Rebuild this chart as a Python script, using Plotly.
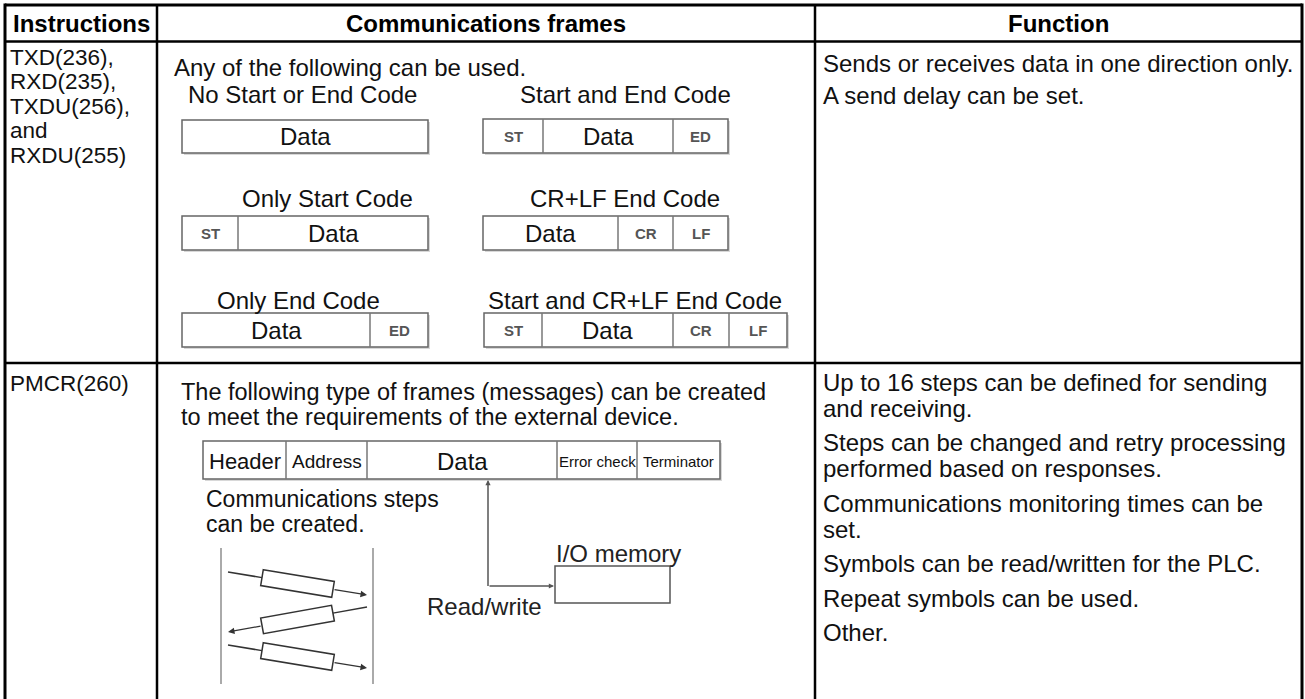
import math
import plotly.graph_objects as go

# ---------------- content ----------------
headers = ["Instructions", "Communications frames", "Function"]
row1_instr = ["TXD(236),", "RXD(235),", "TXDU(256),", "and", "RXDU(255)"]
row2_instr = ["PMCR(260)"]
row1_intro = "Any of the following can be used."
frame_titles = ["No Start or End Code", "Start and End Code", "Only Start Code",
                "CR+LF End Code", "Only End Code", "Start and CR+LF End Code"]
frame_cells = [["Data"], ["ST", "Data", "ED"], ["ST", "Data"],
               ["Data", "CR", "LF"], ["Data", "ED"], ["ST", "Data", "CR", "LF"]]
row1_func = [["Sends or receives data in one direction only."], ["A send delay can be set."]]
row2_intro = ["The following type of frames (messages) can be created",
              "to meet the requirements of the external device."]
pmcr_cells = ["Header", "Address", "Data", "Error check", "Terminator"]
steps_text = ["Communications steps", "can be created."]
io_label = "I/O memory"
rw_label = "Read/write"
row2_func = [["Up to 16 steps can be defined for sending", "and receiving."],
             ["Steps can be changed and retry processing", "performed based on responses."],
             ["Communications monitoring times can be", "set."],
             ["Symbols can be read/written for the PLC."],
             ["Repeat symbols can be used."],
             ["Other."]]
step_dirs = [1, -1, 1]   # 1 = left-to-right, -1 = right-to-left

# ---------------- geometry (pixels) ----------------
W, H = 1305, 699
FONT = "Liberation Sans, Arial, Helvetica, sans-serif"
COL_X = [5, 157, 815, 1302]
ROW_Y = [5, 41.5, 363, 705]

frame_boxes = [(182, 428, 120, 153), (483, 728, 119, 153), (182, 428, 216, 250),
               (483, 728, 216, 250), (182, 428, 313, 347), (484, 787, 313, 347)]
frame_divs = [[], [543, 673], [238], [618, 673], [370], [542, 673, 729]]
title_pos = [(302, 94), (625, 94), (327, 198), (625, 198), (298, 300), (635, 300)]

pmcr_box = (203, 720, 441, 479)
pmcr_divs = [286, 367, 557, 637]
pmcr_sizes = [22, 19, 24, 15, 15]

step_lines = [(228, 572, 367, 595), (367, 607, 228, 632), (228, 645, 367, 668)]
step_rect_len, step_rect_h = 72, 16

shapes = []
annotations = []


def line(x0, y0, x1, y1, color="black", width=2):
    shapes.append(dict(type="line", xref="x", yref="y", x0=x0, y0=y0, x1=x1, y1=y1,
                       line=dict(color=color, width=width), layer="above"))


def text(x, y, s, size=24, color="#111", xanchor="left", bold=False):
    annotations.append(dict(x=x, y=y, xref="x", yref="y", text=("<b>%s</b>" % s) if bold else s,
                            showarrow=False, xanchor=xanchor, yanchor="middle", borderpad=0,
                            font=dict(family=FONT, size=size, color=color)))


def arrow(x0, y0, x1, y1, color="#333", width=1.5, size=1.0):
    annotations.append(dict(x=x1, y=y1, ax=x0, ay=y0, xref="x", yref="y", axref="x", ayref="y",
                            text="", showarrow=True, arrowhead=2, arrowsize=size,
                            arrowwidth=width, arrowcolor=color, standoff=0, startstandoff=0))


# ---------------- table grid ----------------
line(COL_X[0], ROW_Y[0], COL_X[3], ROW_Y[0], width=3)
line(COL_X[0], ROW_Y[1], COL_X[3], ROW_Y[1], width=2.5)
line(COL_X[0], ROW_Y[2], COL_X[3], ROW_Y[2], width=2.5)
line(COL_X[0], ROW_Y[0] - 1.5, COL_X[0], ROW_Y[3], width=3)
line(COL_X[1], ROW_Y[0], COL_X[1], ROW_Y[3], width=2.5)
line(COL_X[2], ROW_Y[0], COL_X[2], ROW_Y[3], width=2.5)
line(COL_X[3], ROW_Y[0] - 1.5, COL_X[3], ROW_Y[3], width=3)

# headers
for i, h in enumerate(headers):
    text((COL_X[i] + COL_X[i + 1]) / 2, 23, h, size=24, xanchor="center", bold=True, color="#000")

# column 1
for i, s in enumerate(row1_instr):
    text(9, 57 + i * 24.5, s, size=22.5)
for i, s in enumerate(row2_instr):
    text(9, 383 + i * 24.5, s, size=22.5)

# column 2, row 1
text(173, 67, row1_intro)
for k, (title, cells) in enumerate(zip(frame_titles, frame_cells)):
    tx, ty = title_pos[k]
    text(tx, ty, title, xanchor="center")
    x0, x1, y0, y1 = frame_boxes[k]
    shapes.append(dict(type="rect", xref="x", yref="y", x0=x0 + 2, y0=y0 + 2, x1=x1 + 2, y1=y1 + 2,
                       line=dict(width=0), fillcolor="#d8d8d8", layer="above"))
    shapes.append(dict(type="rect", xref="x", yref="y", x0=x0, y0=y0, x1=x1, y1=y1,
                       line=dict(color="#666", width=1.5), fillcolor="white", layer="above"))
    edges = [x0] + frame_divs[k] + [x1]
    for d in frame_divs[k]:
        line(d, y0, d, y1, color="#777", width=1.5)
    for c, cell in enumerate(cells):
        cx = (edges[c] + edges[c + 1]) / 2
        cy = (y0 + y1) / 2
        if cell == "Data":
            text(cx, cy, cell, size=24, xanchor="center", color="#111")
        else:
            text(cx, cy, cell, size=15, xanchor="center", color="#555", bold=True)

# column 2, row 2
for i, s in enumerate(row2_intro):
    text(180, 392 + i * 25, s, size=23.5)
x0, x1, y0, y1 = pmcr_box
shapes.append(dict(type="rect", xref="x", yref="y", x0=x0 + 2, y0=y0 + 2, x1=x1 + 2, y1=y1 + 2,
                   line=dict(width=0), fillcolor="#d8d8d8", layer="above"))
shapes.append(dict(type="rect", xref="x", yref="y", x0=x0, y0=y0, x1=x1, y1=y1,
                   line=dict(color="#666", width=1.5), fillcolor="white", layer="above"))
edges = [x0] + pmcr_divs + [x1]
for d in pmcr_divs:
    line(d, y0, d, y1, color="#777", width=1.5)
for c, cell in enumerate(pmcr_cells):
    text((edges[c] + edges[c + 1]) / 2, (y0 + y1) / 2 + 1, cell, size=pmcr_sizes[c],
         xanchor="center", color="#111")

for i, s in enumerate(steps_text):
    text(205, 499 + i * 25, s, size=23)

# step diagram: two vertical gray lines
line(221, 548, 221, 684, color="#aaa", width=2)
line(373, 548, 373, 684, color="#aaa", width=2)
for (sx, sy, ex, ey), d in zip(step_lines, step_dirs):
    cx, cy = (sx + ex) / 2, (sy + ey) / 2
    ang = math.atan2(ey - sy, ex - sx)
    ux, uy = math.cos(ang), math.sin(ang)
    px, py = -uy, ux
    L, Hh = step_rect_len / 2, step_rect_h / 2
    pts = [(cx - ux * L - px * Hh, cy - uy * L - py * Hh), (cx + ux * L - px * Hh, cy + uy * L - py * Hh),
           (cx + ux * L + px * Hh, cy + uy * L + py * Hh), (cx - ux * L + px * Hh, cy - uy * L + py * Hh)]
    path = "M " + " L ".join("%.2f,%.2f" % p for p in pts) + " Z"
    shapes.append(dict(type="path", xref="x", yref="y", path=path,
                       line=dict(color="#333", width=1.5), fillcolor="white", layer="above"))
    line(sx, sy, cx - ux * L, cy - uy * L, color="#333", width=1.5)
    arrow(cx + ux * L, cy + uy * L, ex, ey, size=1.0, width=1.3)

# read/write connector and I/O memory
line(488, 483, 488, 586, color="#555", width=1.5)
arrow(488, 486, 488, 480, color="#555", width=1.3, size=0.8)
arrow(488, 586, 554, 586, color="#555", width=1.3, size=0.8)
shapes.append(dict(type="rect", xref="x", yref="y", x0=555, y0=566, x1=670, y1=603,
                   line=dict(color="#555", width=1.5), fillcolor="white", layer="above"))
text(555, 553, io_label, color="#222")
text(543, 606, rw_label, xanchor="right", color="#222")

# column 3
y = 63
for para in row1_func:
    for s in para:
        text(822, y, s)
        y += 26
    y += 6
y = 382
for para in row2_func:
    for s in para:
        text(822, y, s)
        y += 26
    y += 8.5

fig = go.Figure(go.Scatter(x=[0], y=[0], mode="markers", marker=dict(opacity=0),
                           hoverinfo="skip", showlegend=False))
fig.update_layout(
    width=W, height=H, autosize=False,
    margin=dict(l=0, r=0, t=0, b=0, pad=0),
    paper_bgcolor="white", plot_bgcolor="white",
    xaxis=dict(range=[0, W], visible=False, fixedrange=True),
    yaxis=dict(range=[H, 0], visible=False, fixedrange=True),
    shapes=shapes, annotations=annotations, showlegend=False,
)
fig.write_html("out.html", config={"displayModeBar": False, "staticPlot": True},
               post_script="document.body.style.margin='0';document.body.style.overflow='hidden';")
